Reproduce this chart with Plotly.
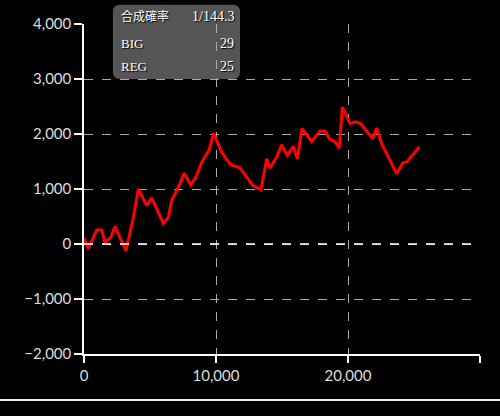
import plotly.graph_objects as go

# games played vs. medal difference
games = [0, 330, 960, 1340, 1590, 2020, 2350, 3180, 3740, 4120, 4750, 5130, 6010, 6390,
         6640, 7270, 7580, 8080, 8480, 8920, 9490, 9820, 10430, 11110, 11820, 12780, 13410,
         13840, 14090, 14600, 14980, 15400, 15860, 16160, 16520, 17250, 17880, 18260, 18590,
         19020, 19340, 19570, 20150, 20610, 20960, 21870, 22170, 22550, 23690, 24140, 24450,
         25400]
medals = [110, -90, 255, 255, 30, 120, 315, -120, 485, 1000, 700, 840, 375, 485,
          790, 1095, 1290, 1075, 1215, 1490, 1715, 2015, 1670, 1440, 1385, 1065, 985,
          1550, 1380, 1580, 1805, 1610, 1775, 1550, 2100, 1865, 2055, 2055, 1915,
          1855, 1745, 2490, 2190, 2220, 2190, 1915, 2110, 1825, 1275, 1470, 1490,
          1765]

x_ticks = [0, 10000, 20000, 30000]
x_ticktext = ["0", "10,000", "20,000", ""]
y_ticks = [-2000, -1000, 0, 1000, 2000, 3000, 4000]

info_labels = ["合成確率", "BIG", "REG"]
info_values = ["1/144.3", "29", "25"]

fig = go.Figure()
fig.add_trace(go.Scatter(x=games, y=medals, mode="lines",
                         line=dict(color="#ff0000", width=3), hoverinfo="skip"))

axis_font = dict(family="Lato, DejaVu Sans", size=15, color="#dddddd")
fig.update_xaxes(range=[0, 30000], tickvals=x_ticks, ticktext=x_ticktext,
                 showgrid=True, gridcolor="#aaaaaa", griddash="dash", gridwidth=1,
                 zeroline=False, showline=True, linecolor="white", linewidth=1.5,
                 ticks="outside", ticklen=7, tickcolor="white", tickwidth=1.5,
                 tickfont=axis_font)
fig.update_yaxes(range=[-2000, 4000], tickvals=y_ticks, tickformat=",d",
                 showgrid=True, gridcolor="#aaaaaa", griddash="dash", gridwidth=1,
                 zeroline=False, showline=True, linecolor="white", linewidth=1.5,
                 ticks="outside", ticklen=8, tickcolor="white", tickwidth=1.5,
                 tickfont=axis_font)

# white dashed zero line
fig.add_shape(type="line", xref="paper", yref="y", x0=0, x1=1, y0=0, y1=0,
              line=dict(color="white", width=1.5, dash="dash"))

# info box (rounded rectangle in paper coords)
bx0, bx1, by0, by1 = 0.073, 0.394, 0.833, 1.058
rx, ry = 7 / 396, 7 / 330
path = (f"M {bx0+rx},{by0} L {bx1-rx},{by0} Q {bx1},{by0} {bx1},{by0+ry} "
        f"L {bx1},{by1-ry} Q {bx1},{by1} {bx1-rx},{by1} L {bx0+rx},{by1} "
        f"Q {bx0},{by1} {bx0},{by1-ry} L {bx0},{by0+ry} Q {bx0},{by0} {bx0+rx},{by0} Z")
fig.add_shape(type="path", path=path, xref="paper", yref="paper",
              fillcolor="#555555", line=dict(width=0), layer="below")

serif = "Liberation Serif, Noto Sans CJK JP"
row_y = [1.024, 0.942, 0.870]
for i, (lab, val, yy) in enumerate(zip(info_labels, info_values, row_y)):
    lab_size = 12 if i == 0 else 13
    fig.add_annotation(x=0.088, y=yy, xref="paper", yref="paper", text=lab,
                       showarrow=False, xanchor="left", yanchor="middle",
                       font=dict(family=serif, size=lab_size, color="white",
                                 shadow="1px 1px 1px black"))
    fig.add_annotation(x=0.385, y=yy, xref="paper", yref="paper", text=val,
                       showarrow=False, xanchor="right", yanchor="middle",
                       font=dict(family=serif, size=14, color="white",
                                 shadow="1px 1px 1px black"))

# bottom border line
fig.add_shape(type="line", xref="paper", yref="paper", x0=-0.25, x1=1.1,
              y0=-0.1394, y1=-0.1394, line=dict(color="#f0f0e0", width=2))

fig.update_layout(width=500, height=416, paper_bgcolor="black", plot_bgcolor="black",
                  margin=dict(l=84, r=20, t=24, b=62, autoexpand=False),
                  showlegend=False)

# drop the default page margin so the chart fills the window
fig.write_html("out.html", config={"displayModeBar": False},
               post_script="document.body.style.margin='0';"
                           "document.body.style.background='black';")
